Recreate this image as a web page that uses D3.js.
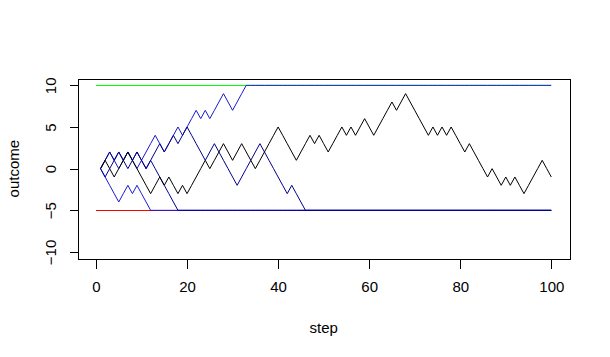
<!DOCTYPE html>
<html><head><meta charset="utf-8">
<script src="https://cdn.jsdelivr.net/npm/d3@7"></script>
<style>body{margin:0;background:#fff}svg{display:block}text{font-family:"Liberation Sans",Arial,sans-serif}</style>
</head><body><svg id="c" width="610" height="357"></svg>
<script>
const xTicks = [0, 20, 40, 60, 80, 100];
const yTicks = [-10, -5, 0, 5, 10];
const upperBound = 10, lowerBound = -5;
const walkA = [0,-1,-2,-3,-4,-3,-2,-3,-2,-3,-4,-5,-5,-5,-5,-5,-5,-5,-5,-5,-5,-5,-5,-5,-5,-5,-5,-5,-5,-5,-5,-5,-5,-5,-5,-5,-5,-5,-5,-5,-5,-5,-5,-5,-5,-5,-5,-5,-5,-5,-5,-5,-5,-5,-5,-5,-5,-5,-5,-5,-5,-5,-5,-5,-5,-5,-5,-5,-5,-5,-5,-5,-5,-5,-5,-5,-5,-5,-5,-5,-5,-5,-5,-5,-5,-5,-5,-5,-5,-5,-5,-5,-5,-5,-5,-5,-5,-5,-5,-5];
const walkB = [0,-1,0,1,2,1,2,1,2,1,0,1,0,-1,-2,-3,-4,-5,-5,-5,-5,-5,-5,-5,-5,-5,-5,-5,-5,-5,-5,-5,-5,-5,-5,-5,-5,-5,-5,-5,-5,-5,-5,-5,-5,-5,-5,-5,-5,-5,-5,-5,-5,-5,-5,-5,-5,-5,-5,-5,-5,-5,-5,-5,-5,-5,-5,-5,-5,-5,-5,-5,-5,-5,-5,-5,-5,-5,-5,-5,-5,-5,-5,-5,-5,-5,-5,-5,-5,-5,-5,-5,-5,-5,-5,-5,-5,-5,-5,-5];
const walkC = [0,1,2,1,0,1,2,1,0,1,2,3,4,3,2,3,4,5,4,5,6,7,6,7,6,7,8,9,8,7,8,9,10,10,10,10,10,10,10,10,10,10,10,10,10,10,10,10,10,10,10,10,10,10,10,10,10,10,10,10,10,10,10,10,10,10,10,10,10,10,10,10,10,10,10,10,10,10,10,10,10,10,10,10,10,10,10,10,10,10,10,10,10,10,10,10,10,10,10,10];
const walkD = [0,1,2,1,2,1,0,1,2,1,0,1,2,3,2,3,4,3,4,5,4,3,2,1,2,3,2,1,0,-1,-2,-1,0,1,2,3,2,1,0,-1,-2,-3,-2,-3,-4,-5,-5,-5,-5,-5,-5,-5,-5,-5,-5,-5,-5,-5,-5,-5,-5,-5,-5,-5,-5,-5,-5,-5,-5,-5,-5,-5,-5,-5,-5,-5,-5,-5,-5,-5,-5,-5,-5,-5,-5,-5,-5,-5,-5,-5,-5,-5,-5,-5,-5,-5,-5,-5,-5,-5];
const walkE = [0,1,0,-1,0,1,2,1,0,-1,-2,-3,-2,-1,-2,-1,-2,-3,-2,-3,-2,-1,0,1,0,1,2,3,2,1,2,3,2,1,0,1,2,3,4,5,4,3,2,1,2,3,4,3,4,3,2,3,4,5,4,5,4,5,6,5,4,5,6,7,8,7,8,9,8,7,6,5,4,5,4,5,4,5,4,3,2,3,2,1,0,-1,0,-1,-2,-1,-2,-1,-2,-3,-2,-1,0,1,0,-1];
const walkColors = ["#1a1ad0", "#00009c", "#1a1ad0", "#00008b", "#000000"];

const svg = d3.select("#c");
const x = d3.scaleLinear().domain([0, 100]).range([96, 551.3]);
const y = d3.scaleLinear().domain([-10, 10]).range([252, 85.3]);
const L = x(-4), R = x(104), T = y(10.8), B = y(-10.8);

const g = svg.append("g");
g.append("line").attr("x1", x(0)).attr("x2", x(100)).attr("y1", y(upperBound)).attr("y2", y(upperBound))
  .attr("stroke", "#00ff00").attr("shape-rendering", "crispEdges");
g.append("line").attr("x1", x(0)).attr("x2", x(100)).attr("y1", y(lowerBound)).attr("y2", y(lowerBound))
  .attr("stroke", "#ff0000").attr("shape-rendering", "crispEdges");

const line = d3.line().x((d, i) => x(i + 1)).y(d => y(d));
[walkA, walkB, walkC, walkD, walkE].forEach((w, k) => {
  g.append("path").attr("d", line(w)).attr("fill", "none").attr("stroke", walkColors[k]).attr("stroke-width", 1);
});

svg.append("rect").attr("x", Math.round(L) + 0.5).attr("y", Math.round(T) + 0.5)
  .attr("width", Math.round(R) - Math.round(L)).attr("height", Math.round(B) - Math.round(T))
  .attr("fill", "none").attr("stroke", "#000").attr("shape-rendering", "crispEdges");

const xa = svg.append("g").attr("transform", `translate(0,${Math.round(B) + 0.5})`)
  .call(d3.axisBottom(x).tickValues(xTicks).tickSize(9).tickPadding(13).tickFormat(d3.format("d")));
xa.select(".domain").attr("d", `M${x(0)},0H${x(100)}`).attr("shape-rendering", "crispEdges");
xa.selectAll(".tick line").attr("shape-rendering", "crispEdges");
xa.selectAll("text").attr("font-size", 15).attr("font-family", "Liberation Sans, Arial, sans-serif").attr("fill", "#000");

const ya = svg.append("g").attr("transform", `translate(${Math.round(L) + 0.5},0)`)
  .call(d3.axisLeft(y).tickValues(yTicks).tickSize(9).tickFormat(d3.format("d")));
ya.select(".domain").attr("d", `M0,${y(-10)}V${y(10)}`).attr("shape-rendering", "crispEdges");
ya.selectAll(".tick line").attr("shape-rendering", "crispEdges");
ya.selectAll("text").attr("font-size", 15).attr("font-family", "Liberation Sans, Arial, sans-serif").attr("fill", "#000")
  .attr("x", 0).attr("dy", 0).attr("text-anchor", "middle")
  .attr("transform", "translate(-23,0) rotate(-90)");

svg.append("text").attr("x", (x(0) + x(100)) / 2).attr("y", 333).attr("text-anchor", "middle")
  .attr("font-size", 15).text("step");
svg.append("text").attr("transform", `translate(19,${(y(-10) + y(10)) / 2}) rotate(-90)`)
  .attr("text-anchor", "middle").attr("font-size", 15).text("outcome");
</script></body></html>
